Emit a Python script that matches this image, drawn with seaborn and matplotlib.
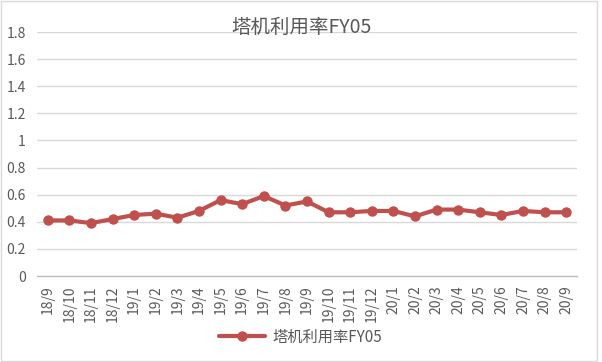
import numpy as np
import pandas as pd
import matplotlib
matplotlib.use("Agg")
import matplotlib.pyplot as plt
import seaborn as sns
from matplotlib.ticker import FixedLocator
from matplotlib.patches import Rectangle

# Data
months = ['18/9', '18/10', '18/11', '18/12', '19/1', '19/2', '19/3', '19/4',
          '19/5', '19/6', '19/7', '19/8', '19/9', '19/10', '19/11', '19/12',
          '20/1', '20/2', '20/3', '20/4', '20/5', '20/6', '20/7', '20/8', '20/9']
utilization = [0.41, 0.41, 0.39, 0.42, 0.45, 0.46, 0.43, 0.48,
               0.56, 0.53, 0.59, 0.52, 0.55, 0.47, 0.47, 0.48,
               0.48, 0.44, 0.49, 0.49, 0.47, 0.45, 0.48, 0.47, 0.47]
series_name = '塔机利用率FY05'
y_ticks = [0, 0.2, 0.4, 0.6, 0.8, 1, 1.2, 1.4, 1.6, 1.8]
y_labels = ['0', '0.2', '0.4', '0.6', '0.8', '1', '1.2', '1.4', '1.6', '1.8']

sns.set_style("white")
plt.rcParams['font.family'] = ['Noto Sans CJK SC', 'DejaVu Sans']

df = pd.DataFrame({'month': months, 'value': utilization})

fig = plt.figure(figsize=(6.02, 3.62), dpi=100)
ax = fig.add_axes([37 / 602, 1 - 276 / 362, 540 / 602, 244 / 362])

sns.lineplot(data=df, x='month', y='value', ax=ax, color='#C0504D',
             linewidth=3, marker='o', markersize=7.5, markeredgewidth=0,
             label=series_name, sort=False)

ax.set_xlim(-0.5, len(months) - 0.5)
ax.set_ylim(0, 1.8)
ax.set_yticks(y_ticks)
ax.set_yticklabels(y_labels)
ax.set_xticks(range(len(months)))
ax.set_xticklabels(months, rotation=90)
ax.xaxis.set_minor_locator(FixedLocator(np.arange(-0.5, len(months), 1)))
ax.tick_params(axis='x', which='major', length=0, pad=7, labelsize=10, labelcolor='#595959')
ax.tick_params(axis='x', which='minor', length=5, color='#BFBFBF', width=1, direction='out')
ax.tick_params(axis='y', length=0, pad=8, labelsize=10, labelcolor='#595959')
ax.set_xlabel('')
ax.set_ylabel('')

ax.grid(axis='y', color='#D9D9D9', linewidth=1)
ax.set_axisbelow(True)
for side in ['top', 'right', 'left']:
    ax.spines[side].set_visible(False)
ax.spines['bottom'].set_color('#BFBFBF')
ax.spines['bottom'].set_linewidth(1)

fig.text(0.5, 1 - 27 / 362, '塔机利用率FY05', ha='center', va='center',
         fontsize=14, color='#595959')

ax.get_legend().remove()
handles, labels = ax.get_legend_handles_labels()
fig.legend(handles, labels, loc='center', bbox_to_anchor=(0.5, 1 - 337 / 362),
           frameon=False, fontsize=11, labelcolor='#595959', handlelength=3,
           handletextpad=0.5)

fig.patches.append(Rectangle((0.002, 0.003), 0.99, 0.994, transform=fig.transFigure,
                             fill=False, edgecolor='#D9D9D9', linewidth=1))

fig.savefig('out.png', dpi=100)
